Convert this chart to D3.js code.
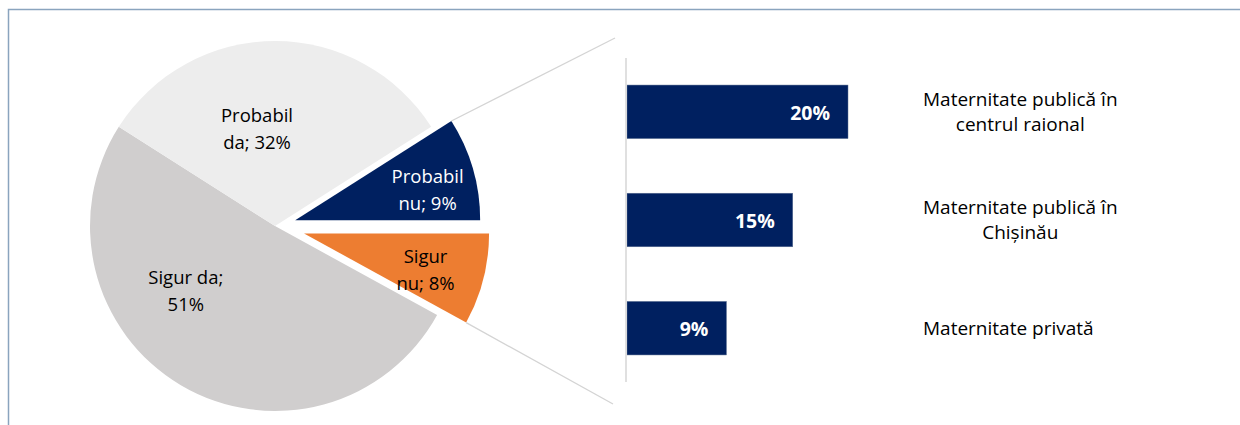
<!DOCTYPE html>
<html>
<head>
<meta charset="utf-8">
<script src="https://cdn.jsdelivr.net/npm/d3@7"></script>
<style>
  body { margin: 0; background: #fff; }
  text { font-family: "Open Sans", sans-serif; }
</style>
</head>
<body>
<script>
// pie: all answers
const pieNames = ["Sigur da", "Probabil da", "Probabil nu", "Sigur nu"];
const pieValues = [51, 32, 9, 8];
// words kept on the first label line (Excel wrapping)
const pieWrap = [2, 1, 1, 1];

// bars: where they would give birth
const barNames = [
    "Maternitate publică în centrul raional",
    "Maternitate publică în Chișinău",
    "Maternitate privată"
];
const barValues = [20, 15, 9];

const pieColors = ["#d0cece", "#ededed", "#002060", "#ed7d31"];
const pieTextColors = ["#000", "#000", "#fff", "#000"];
const explode = [0, 0, 21, 30];
const labelNudge = [[-28, -39], [-18, 23], [17, 3.5], [5, 6.5]];

const width = 1240;
const height = 425;
const navy = "#002060";

const svg = d3
    .select("body")
    .append("svg")
    .attr("width", width)
    .attr("height", height);

// frame (only top and left visible)
svg.append("path")
    .attr("d", "M8.5," + height + " V9.5 H" + width)
    .attr("fill", "none")
    .attr("stroke", "#8aa4be")
    .attr("stroke-width", 1.5);

// ---------- pie ----------
const cx = 275, cy = 226, radius = 185;
const firstSliceAngle = 118.8 * Math.PI / 180;

const pie = d3.pie().sort(null).value(d => d)
    .startAngle(firstSliceAngle)
    .endAngle(firstSliceAngle + 2 * Math.PI);
const slices = pie(pieValues);

const arc = d3.arc().innerRadius(0).outerRadius(radius);
const labelArc = d3.arc().innerRadius(radius * 0.65).outerRadius(radius * 0.65);

const offset = (d, i) => {
    const mid = (d.startAngle + d.endAngle) / 2;
    return [explode[i] * Math.sin(mid), -explode[i] * Math.cos(mid)];
};

const pieG = svg.append("g").attr("transform", "translate(" + cx + "," + cy + ")");

const sliceG = pieG.selectAll("g.slice")
    .data(slices)
    .enter()
    .append("g")
    .attr("class", "slice")
    .attr("transform", (d, i) => {
        const o = offset(d, i);
        return "translate(" + o[0] + "," + o[1] + ")";
    });

sliceG.append("path")
    .attr("d", arc)
    .attr("fill", (d, i) => pieColors[i]);

const lineGap = 27;
sliceG.each(function (d, i) {
    const c = labelArc.centroid(d);
    const x = c[0] + labelNudge[i][0];
    const y = c[1] + labelNudge[i][1];
    const words = (pieNames[i] + "; " + pieValues[i] + "%").split(" ");
    const lines = [words.slice(0, pieWrap[i]).join(" "), words.slice(pieWrap[i]).join(" ")];
    const t = d3.select(this).append("text")
        .attr("text-anchor", "middle")
        .style("font-size", "18.5px")
        .attr("fill", pieTextColors[i]);
    t.selectAll("tspan")
        .data(lines)
        .enter()
        .append("tspan")
        .attr("x", x)
        .attr("y", (l, k) => y + (k - (lines.length - 1) / 2) * lineGap)
        .attr("dy", "0.36em")
        .text(l => l);
});

// ---------- bars ----------
const axisX = 626;
const barTop = 58, barBottom = 382;

const x = d3.scaleLinear().domain([0, 20]).range([axisX + 1, axisX + 222]);
const y = d3.scaleBand()
    .domain(barNames)
    .range([barTop, barBottom])
    .paddingInner(0.505)
    .paddingOuter(0.25);

// connector lines from the exploded slices to the bar panel
const corner = (i, useEnd) => {
    const d = slices[i];
    const a = useEnd ? d.endAngle : d.startAngle;
    const o = offset(d, i);
    return [cx + o[0] + radius * Math.sin(a), cy + o[1] - radius * Math.cos(a)];
};
const connectors = [
    [corner(2, false), [axisX - 11, barTop - 20]],
    [corner(3, true), [axisX - 13, barBottom + 22]]
];
svg.selectAll("line.connector")
    .data(connectors)
    .enter()
    .append("line")
    .attr("class", "connector")
    .attr("x1", d => d[0][0])
    .attr("y1", d => d[0][1])
    .attr("x2", d => d[1][0])
    .attr("y2", d => d[1][1])
    .attr("stroke", "#d4d4d4")
    .attr("stroke-width", 1.3);

svg.selectAll("rect.bar")
    .data(barValues)
    .enter()
    .append("rect")
    .attr("class", "bar")
    .attr("x", x(0))
    .attr("y", (d, i) => y(barNames[i]))
    .attr("width", d => x(d) - x(0))
    .attr("height", y.bandwidth())
    .attr("fill", navy)
    .attr("stroke", "#5f7394")
    .attr("stroke-width", 0.5);

svg.append("line")
    .attr("x1", axisX)
    .attr("x2", axisX)
    .attr("y1", barTop)
    .attr("y2", barBottom)
    .attr("stroke", "#d9d9d9")
    .attr("stroke-width", 1.6);

svg.selectAll("text.value")
    .data(barValues)
    .enter()
    .append("text")
    .attr("class", "value")
    .attr("x", d => x(d) - 18)
    .attr("y", (d, i) => y(barNames[i]) + y.bandwidth() / 2 + 1)
    .attr("dy", "0.36em")
    .attr("text-anchor", "end")
    .attr("fill", "#fff")
    .style("font-size", "19.5px")
    .style("font-weight", "bold")
    .text(d => d + "%");

// category labels: block left-aligned, lines centred inside it
const labelX = 923;
const maxLabelWidth = 200;
const catGap = 25;
const measure = svg.append("text").style("font-size", "19px").attr("visibility", "hidden");
const textWidth = s => { measure.text(s); return measure.node().getComputedTextLength(); };

const wrap = s => {
    const words = s.split(" ");
    const lines = [];
    let cur = "";
    words.forEach(w => {
        const test = cur ? cur + " " + w : w;
        if (cur && textWidth(test) > maxLabelWidth) {
            lines.push(cur);
            cur = w;
        } else {
            cur = test;
        }
    });
    lines.push(cur);
    return lines;
};

barNames.forEach(name => {
    const lines = wrap(name);
    const blockW = d3.max(lines, textWidth);
    const mid = y(name) + y.bandwidth() / 2;
    svg.append("text")
        .attr("text-anchor", "middle")
        .style("font-size", "19px")
        .attr("fill", "#000")
        .selectAll("tspan")
        .data(lines)
        .enter()
        .append("tspan")
        .attr("x", labelX + blockW / 2)
        .attr("y", (l, k) => mid + (k - (lines.length - 1) / 2) * catGap)
        .attr("dy", "0.36em")
        .text(l => l);
});
measure.remove();
</script>
</body>
</html>
